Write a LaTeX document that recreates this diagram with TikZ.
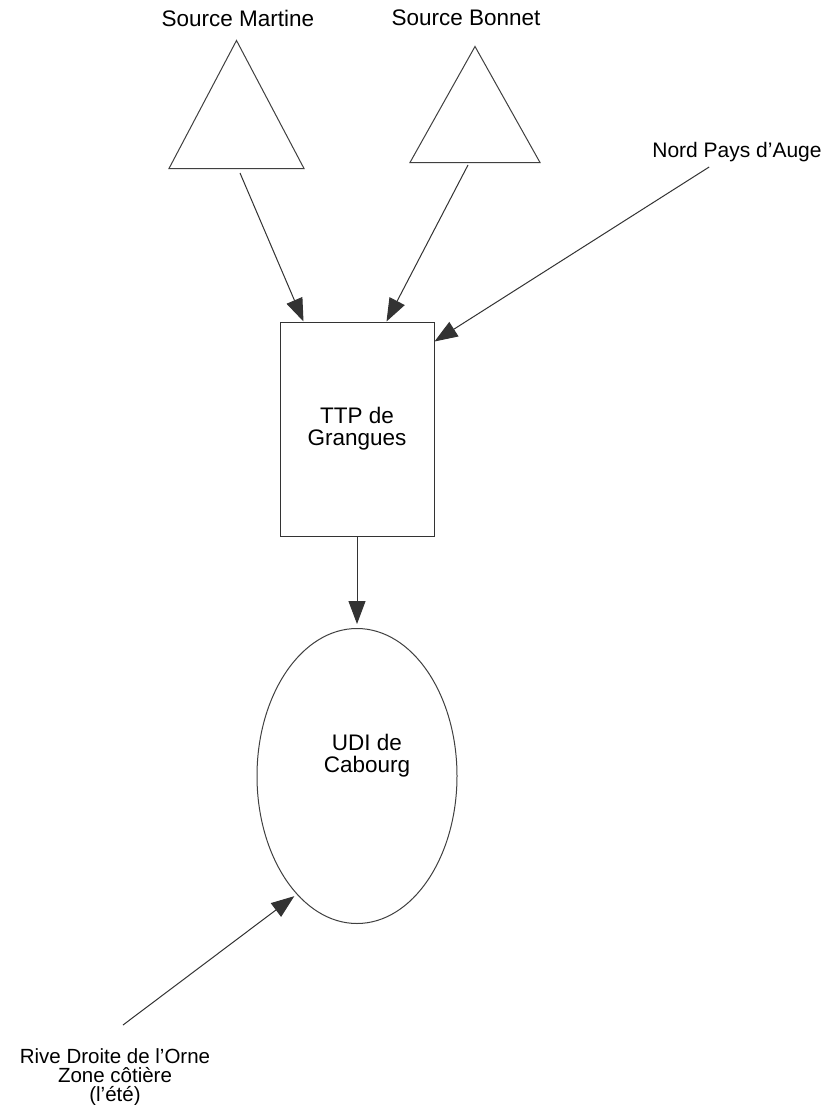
\documentclass[tikz,border=0pt]{standalone}
\usepackage{fontspec}
\setmainfont{Liberation Sans}
\usetikzlibrary{calc,arrows.meta,shapes.geometric}

\tikzset{
  flow/.style={-{Triangle[length=23pt,width=17pt]}, line width=1pt, black!80},
  lbl/.style={inner sep=0pt, align=center, font=\fontsize{22.5}{22}\selectfont},
  src/.style={draw=black!75, line width=1pt, isosceles triangle, isosceles triangle stretches,
    shape border rotate=90, inner sep=0pt, anchor=lower side},
}

\begin{document}
\begin{tikzpicture}[x=1pt, y=-1pt]
  \useasboundingbox[fill=white] (0,0) rectangle (834,1105);

  % sources
  \node[lbl] (tMartine) at (238, 18) {Source Martine};
  \node[lbl] (tBonnet)  at (466, 18) {Source Bonnet};
  \node[src, minimum width=135pt, minimum height=128pt] (martine) at (236.5, 169) {};
  \node[src, minimum width=130pt, minimum height=116pt] (bonnet)  at (475, 163) {};

  \node[lbl, font=\fontsize{21}{21}\selectfont] (nord) at (737, 152) {Nord Pays d'Auge};

  % treatment and distribution
  \node[draw=black!80, line width=1pt, minimum width=154pt, minimum height=214pt, lbl] (ttp)
    at (357, 429) {TTP de\\Grangues};
  \node[draw=black!75, line width=1pt, ellipse, minimum width=200pt, minimum height=295pt] (udi)
    at (357, 776) {};
  \node[lbl] (udiText) at (367, 756) {UDI de\\Cabourg};

  \node[lbl, font=\fontsize{20.5}{19}\selectfont] (rive) at (115, 1077)
    {Rive Droite de l'Orne\\Zone côtière\\(l'été)};
  \coordinate (riveEnd) at (123, 1025);

  \draw[flow] ($(martine.lower side)+(3.5,4)$) -- ($(ttp.north west)+(24,0)$);
  \draw[flow] ($(bonnet.lower side)+(-7,2)$) -- ($(ttp.north west)+(107,0)$);
  \draw[flow] ($(nord.south west)+(57,5)$) -- ($(ttp.north east)+(0,20)$);
  \draw[flow, shorten >=4pt] (ttp.south) -- (udi.north);
  \draw[flow, shorten >=3pt] (riveEnd) -- (udi.-117);
\end{tikzpicture}
\end{document}
